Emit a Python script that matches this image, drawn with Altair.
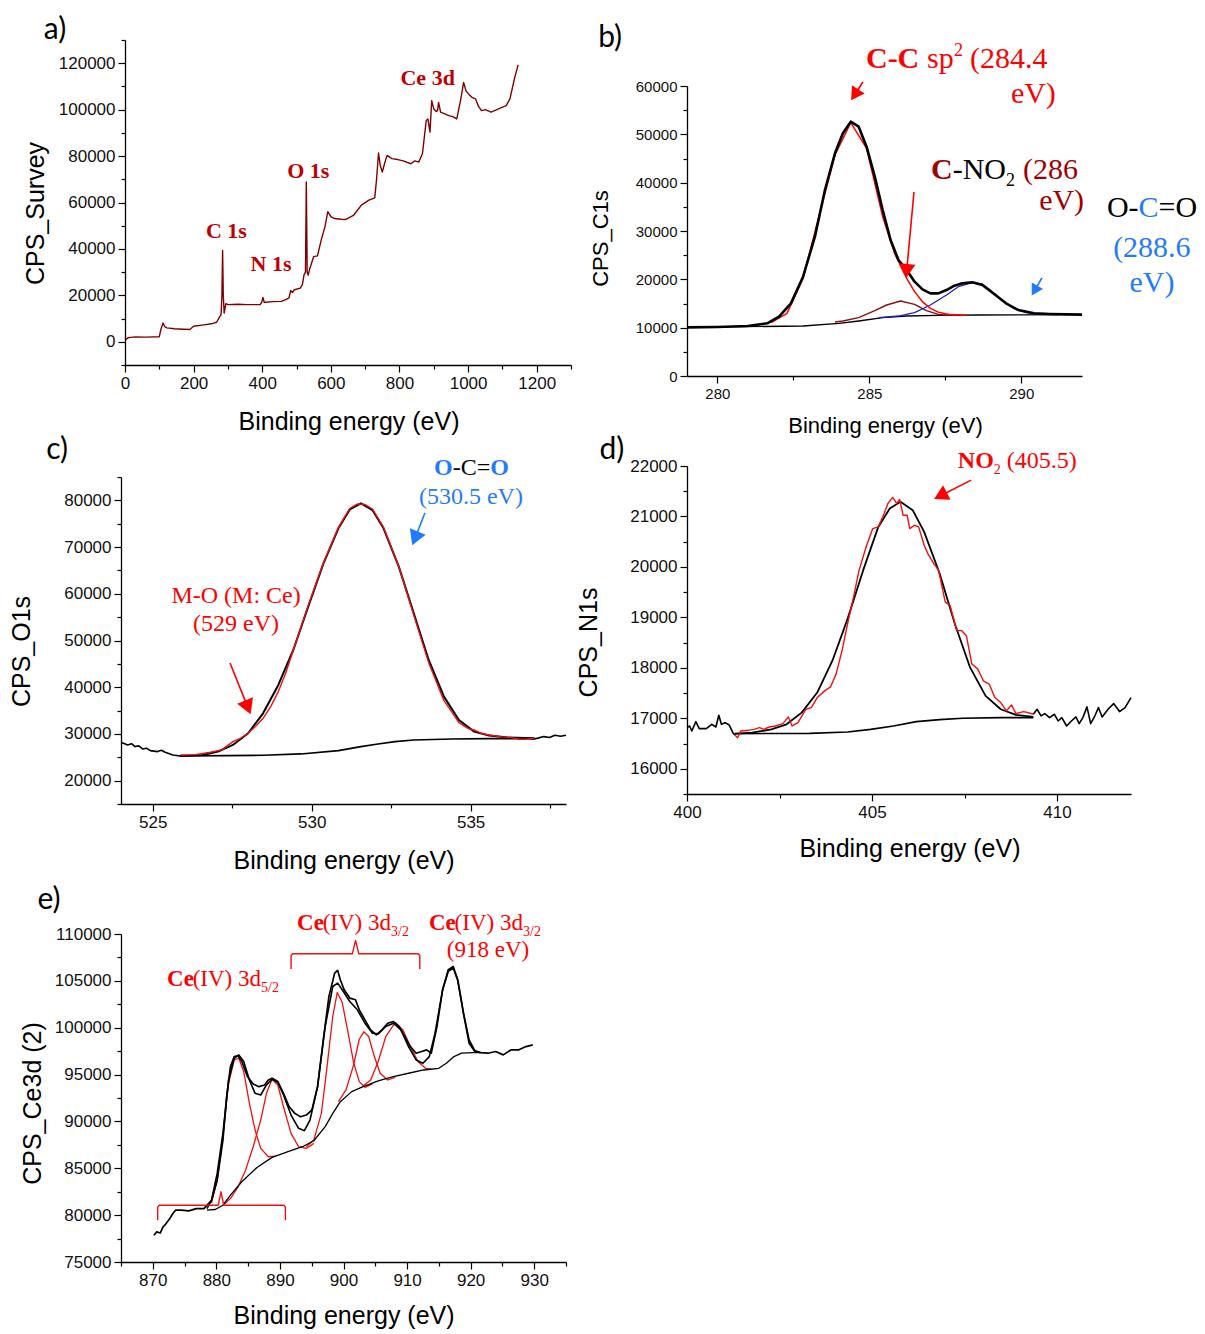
import altair as alt
import pandas as pd

W, H = 1205, 1334
SANS = "Liberation Sans"
SERIF = "Liberation Serif"
PLAB = "Lato"

# ------------------------------------------------------------------ data
# a) survey spectrum (binding energy eV, counts)
A_SURVEY = [(0, 700), (10, 1800), (30, 2100), (60, 2000), (100, 2200), (105, 5500), (111, 8100), (116, 6500),
            (122, 6000), (144, 5600), (170, 5400), (189, 5300), (200, 6700), (230, 7300), (256, 7900), (267, 8400),
            (274, 10300), (280, 11700), (282.5, 20000), (284.5, 39300), (286.5, 20000), (289, 12400), (294, 16400),
            (300, 16000), (330, 16200), (356, 16000), (394, 16000), (399, 17200), (402, 19100), (406, 17000),
            (411, 17000), (430, 17300), (456, 17400), (470, 18300), (478, 18900), (483, 22100), (488, 21200),
            (494, 22400), (511, 23100), (517, 24600), (522, 28900), (526, 30000), (528.5, 68900), (531, 30000),
            (534, 28700), (539, 31700), (550, 36700), (561, 37000), (572, 43900), (583, 49600), (591, 56000),
            (596, 55000), (600, 53900), (611, 53100), (630, 52800), (644, 52700), (667, 54600), (689, 58900),
            (711, 61000), (728, 62000), (733, 69600), (739, 81300), (744, 76000), (750, 73100), (757, 77000),
            (764, 80300), (778, 78900), (795, 78500), (811, 77900), (833, 76700), (845, 77900), (856, 77400),
            (867, 81000), (878, 95300), (883, 96000), (889, 90300), (894, 103900), (900, 100300), (907, 99200),
            (911, 99600), (914, 103100), (920, 98900), (944, 97400), (955, 97000), (967, 96000), (978, 103900),
            (987, 111700), (994, 108100), (1000, 107000), (1011, 105300), (1022, 104600), (1030, 101500),
            (1039, 99600), (1050, 100000), (1067, 98900), (1089, 100300), (1111, 101700), (1122, 104600),
            (1136, 113900), (1146, 119300)]
A_PEAKS = [("C 1s", 295.6, 47570), ("N 1s", 425.6, 33430), ("O 1s", 534.4, 73710), ("Ce 3d", 882.2, 113430)]

# b) C1s
B_ENV = [(279.0, 10070), (280.0, 10140), (281.0, 10340), (281.64, 10900), (282.03, 12280), (282.42, 15030),
         (282.82, 20550), (283.21, 28830), (283.54, 38480), (283.87, 46070), (284.13, 50210), (284.39, 52620),
         (284.65, 51590), (284.91, 47450), (285.18, 41240), (285.44, 34340), (285.70, 28140), (285.96, 24000),
         (286.23, 21930), (286.49, 19520), (286.75, 17930), (287.01, 17100), (287.27, 17100), (287.54, 17790),
         (287.80, 18690), (288.06, 19170), (288.39, 19380), (288.72, 18830), (289.11, 16970), (289.50, 15030),
         (289.90, 13660), (290.42, 12970), (290.94, 12830), (292.0, 12690)]
B_BASE = [(279.0, 10070), (282.82, 10340), (284.0, 10900), (284.65, 11380), (285.44, 12070), (286.23, 12410),
          (287.27, 12550), (288.58, 12620), (292.0, 12690)]
B_CC = [(281.77, 11030), (282.29, 12970), (282.82, 20210), (283.34, 32970), (283.87, 45730), (284.39, 52420),
        (284.91, 47110), (285.44, 32970), (285.83, 25380), (286.23, 20210), (286.49, 17450), (286.75, 15380),
        (287.01, 14000), (287.27, 13200), (287.67, 12700), (288.19, 12550)]
B_CNO2 = [(283.87, 11170), (284.13, 11380), (284.65, 12070), (285.18, 13520), (285.57, 14690), (286.03, 15520),
          (286.49, 14830), (286.88, 13520), (287.27, 12760), (287.67, 12550), (288.06, 12550)]
B_OCO = [(285.31, 12070), (285.96, 12410), (286.49, 13100), (287.01, 14690), (287.54, 16760), (287.93, 18480),
         (288.39, 19310), (288.72, 19040), (288.98, 17790), (289.37, 15590), (289.76, 13930), (290.16, 13100),
         (290.55, 12760), (291.21, 12690)]

# c) O1s
C_RAW_L = [(524.0, 28210), (524.21, 27640), (524.33, 27900), (524.44, 27290), (524.56, 27450), (524.68, 26790),
           (524.80, 26950), (524.92, 26430), (525.15, 26220), (525.27, 26500), (525.39, 26070), (525.63, 25500),
           (525.86, 25290)]
C_RAW_R = [(536.77, 29070), (537.0, 28940), (537.12, 29100), (537.30, 29430), (537.48, 29220), (537.65, 29710),
           (537.83, 29500), (538.0, 29710)]
C_ENV = [(525.86, 25290), (526.58, 25500), (527.05, 26220), (527.52, 27640), (528.00, 30140), (528.47, 34420),
         (528.95, 40480), (529.42, 47970), (529.89, 57250), (530.37, 66520), (530.84, 74010), (531.20, 78070),
         (531.55, 79360), (531.91, 77930), (532.26, 74010), (532.74, 65810), (533.21, 55820), (533.68, 45830),
         (534.16, 37990), (534.63, 32990), (535.11, 30500), (535.58, 29640), (536.17, 29210), (537.0, 29070)]
C_DATA = [(525.86, 25500), (526.34, 25580), (526.81, 26070), (527.17, 26580), (527.52, 28360), (527.76, 29070),
          (528.00, 30140), (528.23, 31570), (528.47, 33350), (528.71, 35850), (528.95, 39060), (529.18, 42980),
          (529.42, 47970), (529.89, 57460), (530.37, 66660), (530.84, 74220), (531.20, 78290), (531.43, 79220),
          (531.67, 79140), (531.91, 78150), (532.26, 74220), (532.74, 65810), (533.21, 55460), (533.68, 45260),
          (534.16, 37130), (534.40, 34780), (534.63, 32420), (534.93, 31140), (535.11, 30850), (535.34, 30140),
          (535.58, 29780), (535.94, 29430), (536.29, 29210), (536.53, 28860), (536.77, 28930), (537.0, 29070)]
C_BASE = [(525.86, 25290), (527.29, 25360), (528.47, 25430), (529.66, 25720), (530.84, 26430), (531.55, 27290),
          (532.03, 27790), (532.62, 28360), (533.21, 28710), (534.40, 28930), (535.58, 29000), (537.0, 29000)]

# d) N1s
D_RAW_L = [(400.0, 16815), (400.07, 16848), (400.13, 16748), (400.24, 16934), (400.33, 16795), (400.52, 16795),
           (400.67, 16881), (400.78, 16828), (400.86, 17060), (400.93, 16881), (401.03, 16914), (401.14, 16868),
           (401.24, 16715), (401.29, 16669)]
D_RAW_R = [(409.36, 17080), (409.46, 17179), (409.57, 17047), (409.67, 17093), (409.80, 17013), (409.93, 17080),
           (410.03, 16947), (410.13, 17013), (410.26, 16848), (410.39, 16947), (410.51, 17027), (410.60, 16894),
           (410.70, 17013), (410.81, 17226), (410.91, 16894), (411.01, 17027), (411.12, 17213), (411.22, 17027),
           (411.38, 17179), (411.53, 17292), (411.69, 17133), (411.84, 17213), (412.0, 17411)]
D_DATA = [(401.29, 16669), (401.37, 16616), (401.45, 16748), (401.65, 16762), (401.81, 16781), (401.96, 16815),
          (402.07, 16781), (402.22, 16828), (402.38, 16848), (402.59, 16894), (402.74, 17027), (402.84, 16848),
          (403.0, 16914), (403.21, 17179), (403.36, 17213), (403.52, 17411), (403.72, 17544), (403.88, 17624),
          (404.03, 17876), (404.19, 18340), (404.34, 18870), (404.50, 19401), (404.65, 19931), (404.84, 20395),
          (405.02, 20760), (405.17, 20793), (405.33, 21058), (405.43, 21257), (405.56, 21377), (405.67, 21257),
          (405.75, 21337), (405.84, 21025), (405.95, 21025), (406.02, 20760), (406.15, 20826), (406.26, 20793),
          (406.41, 20428), (406.51, 20263), (406.67, 20064), (406.80, 19931), (406.98, 19301), (407.11, 19235),
          (407.29, 18738), (407.42, 18738), (407.55, 18638), (407.70, 18075), (407.86, 17975), (408.01, 17743),
          (408.17, 17677), (408.32, 17411), (408.48, 17312), (408.63, 17146), (408.77, 17265), (408.89, 17093),
          (409.10, 17133), (409.22, 17113), (409.36, 17080)]
D_FIT = [(401.29, 16695), (401.76, 16715), (402.28, 16781), (402.69, 16881), (403.10, 17113), (403.52, 17511),
         (403.93, 18141), (404.34, 18970), (404.76, 19931), (405.17, 20793), (405.48, 21158), (405.77, 21290),
         (406.10, 21125), (406.41, 20694), (406.83, 19865), (407.24, 18870), (407.65, 18008), (408.07, 17445),
         (408.48, 17179), (408.89, 17067), (409.36, 17027)]
D_BASE = [(401.29, 16695), (403.31, 16702), (404.34, 16728), (404.96, 16781), (405.58, 16848), (406.20, 16934),
          (406.83, 16974), (407.45, 17000), (408.48, 17013), (409.36, 17013)]

# e) Ce3d
E_RAW = [(870.18, 77850), (870.60, 78210), (871.19, 78100), (871.61, 78740), (872.09, 79100), (872.68, 79630),
         (873.16, 80170), (873.58, 80530), (874.47, 80530), (875.66, 80450), (876.85, 80700), (878.05, 80700),
         (878.52, 81060), (879.24, 81590), (880.13, 83730), (881.03, 88010), (881.62, 92640), (882.22, 95850),
         (882.81, 96920), (883.41, 96990), (884.00, 96390), (884.90, 94780), (885.79, 94000), (886.69, 93710),
         (887.58, 93890), (888.18, 94430), (888.77, 94600), (889.67, 94250), (890.56, 93000), (891.45, 91570),
         (892.35, 90860), (893.24, 90500), (894.14, 90680), (895.03, 91220), (895.92, 93710), (896.82, 98700),
         (897.71, 103340), (898.61, 105830), (899.08, 106120), (899.50, 105120), (900.10, 104050), (900.99, 103160),
         (901.88, 102980), (902.48, 101910), (903.37, 100840), (904.27, 99770), (905.16, 99240), (906.06, 99770),
         (906.95, 100480), (907.84, 100660), (908.74, 100130), (909.63, 99060), (910.52, 97990), (911.42, 97280),
         (912.31, 97460), (913.09, 97630), (913.80, 97280), (914.70, 100130), (915.59, 104050), (916.48, 106190),
         (917.26, 106540), (917.97, 105120), (918.87, 101550), (919.76, 98340), (920.66, 97460), (921.55, 97350),
         (922.74, 97280), (923.93, 97460), (925.13, 97100), (926.32, 97630), (927.51, 97630), (928.70, 97990),
         (929.77, 98170)]
E_ENV = [(878.52, 80700), (879.24, 81590), (880.13, 84450), (881.03, 88720), (881.92, 94420), (882.81, 96740),
         (883.53, 97100), (884.30, 96390), (885.20, 94420), (886.09, 93000), (886.98, 92820), (887.88, 93890),
         (888.77, 94500), (889.67, 94150), (890.56, 92820), (891.75, 90680), (892.94, 89260), (893.84, 89010),
         (894.73, 90150), (895.92, 93710), (897.12, 100130), (898.31, 104400), (899.08, 104760), (899.80, 104050),
         (900.99, 102800), (902.18, 101910), (903.37, 100480), (904.56, 99410), (905.46, 99340), (906.65, 100130),
         (907.84, 100480), (909.03, 99770), (910.23, 97990), (911.42, 96560), (912.49, 96210), (913.50, 96920),
         (914.40, 99410), (915.59, 104050), (916.48, 106010), (917.26, 106370), (917.97, 105050), (918.87, 101550),
         (919.76, 98700), (920.66, 97560), (921.55, 97350)]
E_BASE = [(878.52, 80530), (879.83, 80600), (881.03, 81060), (882.22, 82130), (884.00, 83560), (886.39, 85090),
          (888.77, 86160), (891.16, 86760), (893.54, 87300), (895.33, 87940), (897.12, 89440), (898.31, 90860),
          (899.50, 92110), (901.29, 93180), (903.08, 93710), (905.46, 94320), (907.84, 94780), (910.23, 95140),
          (912.61, 95490), (914.99, 95670), (916.18, 96210), (917.38, 96920), (918.57, 97280), (920.36, 97350),
          (921.55, 97350)]
E_COMPS = [
    [(879.24, 81310), (880.13, 83730), (881.03, 88370), (881.92, 94070), (882.81, 96560), (883.53, 96740),
     (884.30, 95320), (885.20, 91930), (886.09, 89080), (886.98, 87120), (888.18, 86230), (889.37, 86300)],
    [(881.03, 81060), (882.22, 81770), (883.41, 83020), (884.60, 84800), (885.79, 87300), (886.98, 90150),
     (887.88, 93000), (888.77, 94500), (889.67, 93890), (890.56, 91570), (891.75, 88720), (892.94, 87300),
     (894.14, 87120), (895.33, 87660)],
    [(894.14, 87300), (895.33, 88010), (896.52, 90860), (897.41, 95850), (898.31, 101200), (899.02, 103760),
     (899.80, 102690), (900.69, 99590), (901.59, 96280), (902.48, 94250), (903.37, 93640), (904.56, 94000)],
    [(899.20, 92110), (900.39, 93360), (901.59, 96030), (902.48, 98770), (903.19, 99560), (903.96, 99060),
     (904.86, 96920), (905.76, 95140), (906.95, 94420), (908.14, 94710)],
    [(903.08, 93780), (904.27, 94420), (905.46, 96390), (906.65, 99060), (908.14, 100560), (909.34, 99770),
     (910.52, 97990), (911.72, 96390), (912.91, 95670), (913.80, 95570)],
]
E_BR_TOP = [(891.75, 106260), (891.75, 107700), (892.0, 107900), (901.4, 107900), (901.9, 109320), (902.4, 107900),
            (911.75, 107900), (912.0, 107700), (912.0, 106260)]
E_BR_BOT = [(870.77, 79460), (870.77, 80860), (871.0, 81060), (880.3, 81060), (880.73, 82490), (881.16, 81060),
            (890.6, 81060), (890.86, 80860), (890.86, 79460)]

# ------------------------------------------------------------------ panel geometry (pixels) and axes
PANELS = {
    "a": dict(xdom=[0, 1300], ydom=[-10000, 130000], xr=[125, 571], yr=[365, 40],
              xvals=list(range(0, 1301, 100)), xmaj=200, yvals=list(range(-10000, 130001, 10000)), ymaj=20000,
              ytitle="CPS_Survey", xt=(348.5, 421), yt=(35, 213), lab=17, tit=25),
    "b": dict(xdom=[279, 292], ydom=[0, 60000], xr=[687, 1082], yr=[376, 86],
              xvals=[280, 282.5, 285, 287.5, 290], xmaj=5, yvals=list(range(0, 60001, 5000)), ymaj=10000,
              ytitle="CPS_C1s", xt=(885, 425), yt=(600, 238), lab=15, tit=22),
    "c": dict(xdom=[524, 538], ydom=[15000, 85000], xr=[121, 566], yr=[804, 477],
              xvals=[525, 527.5, 530, 532.5, 535, 537.5], xmaj=5, yvals=list(range(15000, 85001, 5000)), ymaj=10000,
              ytitle="CPS_O1s", xt=(343.6, 860), yt=(21.4, 651), lab=17, tit=25),
    "d": dict(xdom=[400, 412], ydom=[15500, 22000], xr=[687, 1131], yr=[794, 466],
              xvals=[400, 402.5, 405, 407.5, 410], xmaj=5, yvals=list(range(15500, 22001, 500)), ymaj=1000,
              ytitle="CPS_N1s", xt=(909.5, 848), yt=(588, 642), lab=17, tit=25),
    "e": dict(xdom=[865, 935], ydom=[75000, 110000], xr=[121, 566], yr=[1262, 934],
              xvals=list(range(865, 936, 5)), xmaj=10, yvals=list(range(75000, 110001, 2500)), ymaj=5000,
              ytitle="CPS_Ce3d (2)", xt=(343.6, 1315), yt=(32, 1103), lab=17, tit=25),
}


def make_axes(p):
    common = dict(grid=False, domainColor="black", domainWidth=1.3, tickColor="black", tickWidth=1.2,
                  labelFont=SANS, labelFontSize=p["lab"], labelColor="#111111", labelOverlap=False,
                  labelFlush=False, labelPadding=3, titleFont=SANS, titleFontSize=p["tit"],
                  titleFontWeight="normal", titleColor="black", titleAlign="center", titleBaseline="middle",
                  format="d")
    xt = f"abs(datum.value % {p['xmaj']}) < 0.001"
    yt = f"abs(datum.value % {p['ymaj']}) < 0.001"
    ax = alt.Axis(orient="bottom", offset=p["yr"][0] - H, values=p["xvals"],
                  labelExpr=f"{xt} ? datum.label : ''",
                  tickSize={"condition": {"test": xt, "value": 7}, "value": 4},
                  title="Binding energy (eV)", titleX=p["xt"][0], titleY=p["xt"][1] - p["yr"][0], titleAngle=0,
                  **common)
    ay = alt.Axis(orient="left", offset=-p["xr"][0], values=p["yvals"],
                  labelExpr=f"{yt} ? datum.label : ''",
                  tickSize={"condition": {"test": yt, "value": 7}, "value": 4},
                  title=p["ytitle"], titleX=p["yt"][0] - p["xr"][0], titleY=p["yt"][1], titleAngle=270,
                  **common)
    return ax, ay


class Panel:
    def __init__(self, key):
        p = PANELS[key]
        self.sx = alt.Scale(domain=p["xdom"], range=p["xr"], nice=False, zero=False)
        self.sy = alt.Scale(domain=p["ydom"], range=p["yr"], nice=False, zero=False)
        self.ax, self.ay = make_axes(p)
        self.layers = []

    def xy(self):
        return dict(x=alt.X("x:Q", scale=self.sx, axis=self.ax), y=alt.Y("y:Q", scale=self.sy, axis=self.ay))

    def line(self, pts, color, width):
        df = pd.DataFrame(pts, columns=["x", "y"])
        df["i"] = range(len(df))
        self.layers.append(alt.Chart(df).mark_line(color=color, strokeWidth=width, strokeJoin="round")
                           .encode(order="i:Q", **self.xy()))

    def text(self, x, y, s, color="black", size=24, weight="normal", align="left", baseline="alphabetic",
             dx=0, dy=0, font=SERIF):
        df = pd.DataFrame({"x": [x], "y": [y], "t": [s]})
        self.layers.append(alt.Chart(df).mark_text(color=color, fontSize=size, fontWeight=weight, align=align,
                                                   baseline=baseline, dx=dx, dy=dy, font=font)
                           .encode(text="t:N", **self.xy()))

    def runs(self, x, y, parts):
        for s, color, size, weight, dx, dy in parts:
            self.text(x, y, s, color=color, size=size, weight=weight, dx=dx, dy=dy)

    def arrow(self, start, head, color, angle, size, width=1.6):
        df = pd.DataFrame({"x": [start[0]], "y": [start[1]], "x2": [head[0]], "y2": [head[1]]})
        self.layers.append(alt.Chart(df).mark_rule(color=color, strokeWidth=width)
                           .encode(x2="x2:Q", y2="y2:Q", **self.xy()))
        hd = pd.DataFrame({"x": [head[0]], "y": [head[1]]})
        self.layers.append(alt.Chart(hd).mark_point(shape="triangle-up", filled=True, color=color, opacity=1,
                                                    size=size, angle=angle, strokeWidth=0)
                           .encode(**self.xy()))

    def chart(self):
        return alt.layer(*self.layers)


RED = "#FF0000"
DRED = "#A00000"
BLUE = "#1F7BFF"

# ---- a
pa = Panel("a")
pa.line(A_SURVEY, "#800000", 1.4)
for s, x, y in A_PEAKS:
    pa.text(x, y, s, color="#C00000", size=22, weight="bold", align="center", baseline="middle")
pa.text(-204, 134310, "a)", size=30, align="center", baseline="middle", font=PLAB)

# ---- b
pb = Panel("b")
pb.line(B_BASE, "black", 1.3)
pb.line(B_CNO2, "#8B1010", 1.4)
pb.line(B_OCO, "#2020C0", 1.3)
pb.line(B_CC, RED, 1.5)
pb.line(B_ENV, "black", 2.6)
pb.runs(284.89, 63720, [("C-C", RED, 30, "bold", 0, 0), ("sp", RED, 30, "normal", 61, 0),
                        ("2", RED, 18, "normal", 88, -12), ("(284.4", RED, 30, "normal", 104, 0)])
pb.text(291.14, 56480, "eV)", color=RED, size=30, align="right")
pb.runs(287.03, 40760, [("C", DRED, 30, "bold", 0, 0), ("-NO", "black", 30, "normal", 21.7, 0),
                        ("2", "black", 18, "normal", 75, 7), ("(286", DRED, 30, "normal", 92, 0)])
pb.text(292.07, 34340, "eV)", color=DRED, size=30, align="right")
pb.runs(292.82, 32900, [("O-", "black", 30, "normal", 0, 0), ("C", BLUE, 30, "normal", 31.7, 0),
                        ("=O", "black", 30, "normal", 51.7, 0)])
pb.text(294.30, 24620, "(288.6", color=BLUE, size=30, align="center")
pb.text(294.30, 17380, "eV)", color=BLUE, size=30, align="center")
pb.arrow((284.79, 60830), (284.52, 58180), RED, 213, 230)
pb.arrow((286.47, 38070), (286.23, 21720), RED, 185, 270)
pb.arrow((290.68, 20280), (290.44, 17650), BLUE, 210, 170)
pb.text(276.47, 69930, "b)", size=30, align="center", baseline="middle", font=PLAB)

# ---- c
pc = Panel("c")
pc.line(C_RAW_L, "black", 1.6)
pc.line(C_RAW_R, "black", 1.6)
pc.line(C_BASE, "black", 1.6)
pc.line(C_ENV, "black", 2.0)
pc.line(C_DATA, "#F01010", 1.4)
pc.runs(533.85, 85430, [("O", BLUE, 24, "bold", 0, 0), ("-C=", "black", 24, "normal", 18.7, 0),
                        ("O", BLUE, 24, "bold", 56.2, 0)])
pc.text(535.01, 79220, "(530.5 eV)", color=BLUE, size=24, align="center")
pc.text(527.62, 58090, "M-O (M: Ce)", color=RED, size=24, align="center")
pc.text(527.62, 52030, "(529 eV)", color=RED, size=24, align="center")
pc.arrow((527.43, 45180), (527.99, 35680), RED, 158, 290)
pc.arrow((533.56, 77300), (533.25, 71860), BLUE, 202, 290)
pc.text(521.99, 90780, "c)", size=30, align="center", baseline="middle", font=PLAB)

# ---- d
pdn = Panel("d")
pdn.line(D_RAW_L, "black", 1.6)
pdn.line(D_RAW_R, "black", 1.6)
pdn.line(D_BASE, "black", 1.6)
pdn.line(D_FIT, "black", 1.8)
pdn.line(D_DATA, "#F01010", 1.4)
pdn.runs(407.32, 21960, [("NO", RED, 24, "bold", 0, 0), ("2", RED, 14, "normal", 36, 6),
                         ("(405.5)", RED, 24, "normal", 49, 0)])
pdn.arrow((407.68, 21720), (406.85, 21410), RED, 243, 270)
pdn.text(397.97, 22318, "d)", size=30, align="center", baseline="middle", font=PLAB)

# ---- e
pe = Panel("e")
for comp in E_COMPS:
    pe.line(comp, "#F01010", 1.3)
pe.line(E_BASE, "black", 1.3)
pe.line(E_ENV, "black", 1.6)
pe.line(E_RAW, "black", 1.7)
pe.line(E_BR_TOP, "#F01010", 1.4)
pe.line(E_BR_BOT, "#F01010", 1.4)
for lx, ly, sub in [(872.24, 104450, "5/2"), (892.69, 110420, "3/2"), (913.45, 110420, "3/2")]:
    pe.runs(lx, ly, [("Ce", RED, 23, "bold", 0, 0), ("(IV) 3d", RED, 23, "normal", 25.6, 0),
                     (sub, RED, 14, "normal", 94, 6)])
pe.text(922.73, 107540, "(918 eV)", color=RED, size=23, align="center")
pe.text(853.67, 113625, "e)", size=30, align="center", baseline="middle", font=PLAB)

chart = (alt.layer(pa.chart(), pb.chart(), pc.chart(), pdn.chart(), pe.chart())
         .resolve_scale(x="independent", y="independent")
         .properties(width=W, height=H, autosize=alt.AutoSizeParams(type="none"), padding=0, background="white")
         .configure_view(stroke=None))

chart.save("out.html", embed_options={"renderer": "svg", "actions": False})
